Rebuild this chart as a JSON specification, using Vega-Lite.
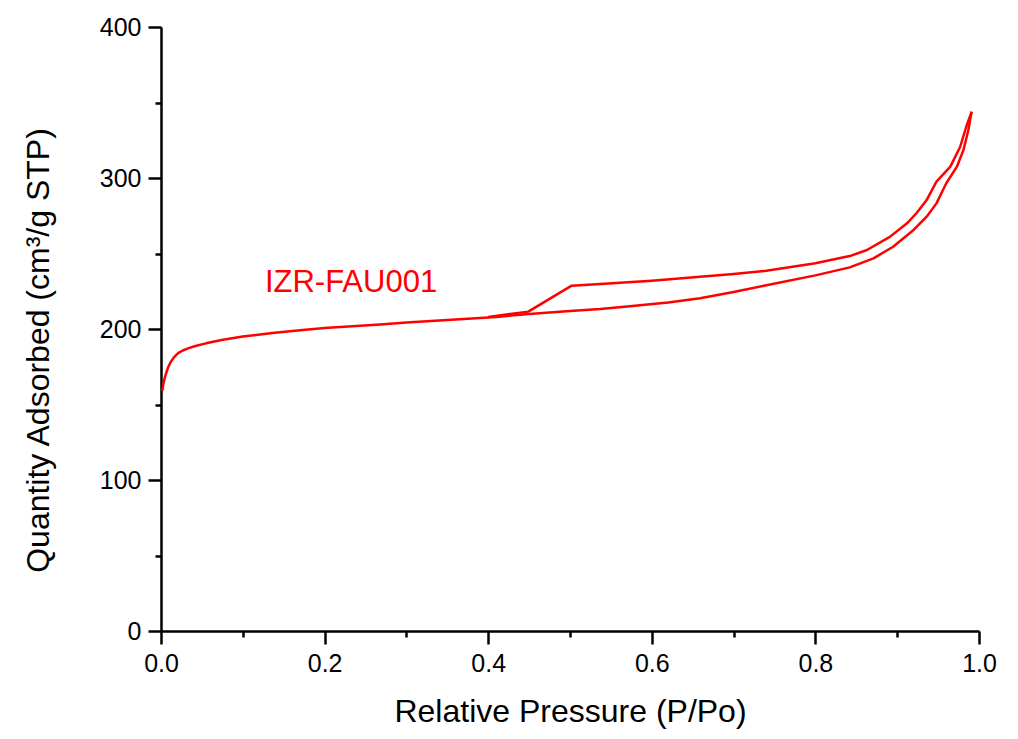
{
  "$schema": "https://vega.github.io/schema/vega-lite/v6.json",
  "width": 818,
  "height": 604,
  "autosize": {"type": "none"},
  "padding": {"left": 161, "top": 27, "right": 39, "bottom": 108},
  "background": "white",
  "config": {
    "view": {"stroke": null},
    "font": "Liberation Sans",
    "axis": {
      "grid": false,
      "domainColor": "black",
      "domainWidth": 2.5,
      "tickColor": "black",
      "tickWidth": 2.5,
      "labelColor": "black",
      "titleColor": "black",
      "labelFont": "Liberation Sans",
      "titleFont": "Liberation Sans",
      "labelFontSize": 25,
      "titleFontSize": 32,
      "titleFontWeight": "normal"
    }
  },
  "datasets": {
    "isotherm": [
      {"branch": "Adsorption", "seq": 1, "p": 0.0016, "q": 159},
      {"branch": "Adsorption", "seq": 2, "p": 0.003, "q": 164},
      {"branch": "Adsorption", "seq": 3, "p": 0.005, "q": 168.5},
      {"branch": "Adsorption", "seq": 4, "p": 0.007, "q": 172},
      {"branch": "Adsorption", "seq": 5, "p": 0.009, "q": 175},
      {"branch": "Adsorption", "seq": 6, "p": 0.012, "q": 178.2},
      {"branch": "Adsorption", "seq": 7, "p": 0.015, "q": 180.6},
      {"branch": "Adsorption", "seq": 8, "p": 0.018, "q": 182.5},
      {"branch": "Adsorption", "seq": 9, "p": 0.021, "q": 184},
      {"branch": "Adsorption", "seq": 10, "p": 0.026, "q": 185.6},
      {"branch": "Adsorption", "seq": 11, "p": 0.033, "q": 187.2},
      {"branch": "Adsorption", "seq": 12, "p": 0.042, "q": 188.7},
      {"branch": "Adsorption", "seq": 13, "p": 0.055, "q": 190.5},
      {"branch": "Adsorption", "seq": 14, "p": 0.074, "q": 192.7},
      {"branch": "Adsorption", "seq": 15, "p": 0.1, "q": 195},
      {"branch": "Adsorption", "seq": 16, "p": 0.139, "q": 197.5},
      {"branch": "Adsorption", "seq": 17, "p": 0.17, "q": 199.2},
      {"branch": "Adsorption", "seq": 18, "p": 0.2, "q": 200.7},
      {"branch": "Adsorption", "seq": 19, "p": 0.268, "q": 203},
      {"branch": "Adsorption", "seq": 20, "p": 0.3, "q": 204.3},
      {"branch": "Adsorption", "seq": 21, "p": 0.35, "q": 206},
      {"branch": "Adsorption", "seq": 22, "p": 0.41, "q": 208},
      {"branch": "Adsorption", "seq": 23, "p": 0.45, "q": 210},
      {"branch": "Adsorption", "seq": 24, "p": 0.5, "q": 212},
      {"branch": "Adsorption", "seq": 25, "p": 0.537, "q": 213.3},
      {"branch": "Adsorption", "seq": 26, "p": 0.573, "q": 215},
      {"branch": "Adsorption", "seq": 27, "p": 0.62, "q": 217.5},
      {"branch": "Adsorption", "seq": 28, "p": 0.659, "q": 220.3},
      {"branch": "Adsorption", "seq": 29, "p": 0.7, "q": 224.5},
      {"branch": "Adsorption", "seq": 30, "p": 0.74, "q": 229},
      {"branch": "Adsorption", "seq": 31, "p": 0.8, "q": 235.5},
      {"branch": "Adsorption", "seq": 32, "p": 0.842, "q": 240.8},
      {"branch": "Adsorption", "seq": 33, "p": 0.871, "q": 246.8},
      {"branch": "Adsorption", "seq": 34, "p": 0.895, "q": 254.5},
      {"branch": "Adsorption", "seq": 35, "p": 0.92, "q": 265.6},
      {"branch": "Adsorption", "seq": 36, "p": 0.936, "q": 274.4},
      {"branch": "Adsorption", "seq": 37, "p": 0.948, "q": 283.2},
      {"branch": "Adsorption", "seq": 38, "p": 0.96, "q": 296.5},
      {"branch": "Adsorption", "seq": 39, "p": 0.973, "q": 307.5},
      {"branch": "Adsorption", "seq": 40, "p": 0.981, "q": 318.5},
      {"branch": "Adsorption", "seq": 41, "p": 0.987, "q": 331.8},
      {"branch": "Adsorption", "seq": 42, "p": 0.991, "q": 343.9},
      {"branch": "Desorption", "seq": 1, "p": 0.991, "q": 343.9},
      {"branch": "Desorption", "seq": 2, "p": 0.985, "q": 335},
      {"branch": "Desorption", "seq": 3, "p": 0.977, "q": 320.7},
      {"branch": "Desorption", "seq": 4, "p": 0.965, "q": 307.5},
      {"branch": "Desorption", "seq": 5, "p": 0.948, "q": 297.6},
      {"branch": "Desorption", "seq": 6, "p": 0.936, "q": 285.4},
      {"branch": "Desorption", "seq": 7, "p": 0.924, "q": 277},
      {"branch": "Desorption", "seq": 8, "p": 0.912, "q": 270},
      {"branch": "Desorption", "seq": 9, "p": 0.891, "q": 261},
      {"branch": "Desorption", "seq": 10, "p": 0.863, "q": 252.3},
      {"branch": "Desorption", "seq": 11, "p": 0.842, "q": 248.3},
      {"branch": "Desorption", "seq": 12, "p": 0.8, "q": 243.5},
      {"branch": "Desorption", "seq": 13, "p": 0.74, "q": 238.6},
      {"branch": "Desorption", "seq": 14, "p": 0.7, "q": 236.5},
      {"branch": "Desorption", "seq": 15, "p": 0.659, "q": 234.6},
      {"branch": "Desorption", "seq": 16, "p": 0.6, "q": 232},
      {"branch": "Desorption", "seq": 17, "p": 0.537, "q": 229.8},
      {"branch": "Desorption", "seq": 18, "p": 0.502, "q": 228.7},
      {"branch": "Desorption", "seq": 19, "p": 0.449, "q": 211.5},
      {"branch": "Desorption", "seq": 20, "p": 0.4, "q": 208}
    ],
    "labels": [
      {"p": 0.127, "q": 224.5, "text": "IZR-FAU001"}
    ]
  },
  "layer": [
    {
      "data": {"name": "isotherm"},
      "mark": {"type": "line", "color": "#ff0000", "strokeWidth": 2.5, "interpolate": "linear", "strokeJoin": "round", "clip": true},
      "encoding": {
        "x": {
          "field": "p",
          "type": "quantitative",
          "scale": {"domain": [0, 1], "nice": false, "zero": false},
          "axis": {
            "title": "Relative Pressure (P/Po)",
            "values": [0, 0.1, 0.2, 0.3, 0.4, 0.5, 0.6, 0.7, 0.8, 0.9, 1.0],
            "labelExpr": "round(datum.value * 10) % 2 === 0 ? format(datum.value, '.1f') : ''",
            "tickSize": {"condition": {"test": "round(datum.value * 10) % 2 === 0", "value": 13}, "value": 6},
            "labelPadding": 7,
            "titlePadding": 20,
            "labelFlush": false
          }
        },
        "y": {
          "field": "q",
          "type": "quantitative",
          "scale": {"domain": [0, 400], "nice": false},
          "axis": {
            "title": "Quantity Adsorbed (cm³/g STP)",
            "values": [0, 50, 100, 150, 200, 250, 300, 350, 400],
            "labelExpr": "datum.value % 100 === 0 ? datum.label : ''",
            "tickSize": {"condition": {"test": "datum.value % 100 === 0", "value": 13}, "value": 6},
            "labelPadding": 7,
            "titlePadding": 44,
            "titleY": 323,
            "labelFlush": false
          }
        },
        "detail": {"field": "branch"},
        "order": {"field": "seq", "type": "quantitative"}
      }
    },
    {
      "data": {"name": "labels"},
      "mark": {"type": "text", "color": "#ff0000", "font": "Liberation Sans", "fontSize": 31, "align": "left", "baseline": "alphabetic"},
      "encoding": {
        "x": {"field": "p", "type": "quantitative"},
        "y": {"field": "q", "type": "quantitative"},
        "text": {"field": "text"}
      }
    }
  ]
}
